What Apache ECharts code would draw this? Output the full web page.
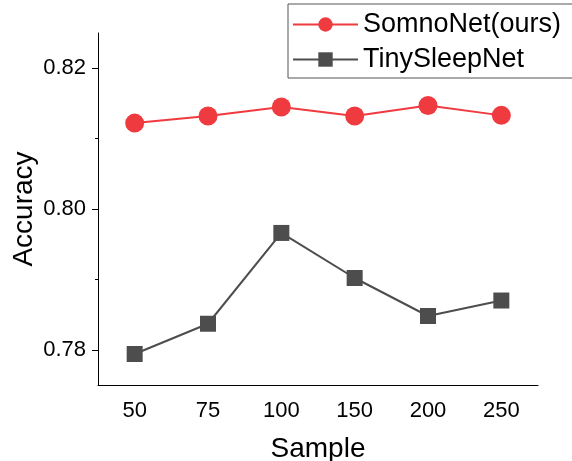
<!DOCTYPE html>
<html>
<head>
<meta charset="utf-8">
<script src="https://cdn.jsdelivr.net/npm/echarts@6/dist/echarts.min.js"></script>
<style>
html,body{margin:0;padding:0;background:#fff;}
#chart{width:572px;height:461px;}
</style>
</head>
<body>
<div id="chart"></div>
<script>
var categories = ['50', '75', '100', '150', '200', '250'];
var somnoNet = [0.8122, 0.8132, 0.8145, 0.8132, 0.8147, 0.8133];
var tinySleepNet = [0.7794, 0.7837, 0.7966, 0.7902, 0.7848, 0.7870];
var yMajorTicks = [0.78, 0.80, 0.82];
var yMinorTicks = [0.79, 0.81];

var FONT = '"Liberation Sans", Arial, sans-serif';
var RED = '#EF3A3F';
var GREY = '#4D4D4D';

var chart = echarts.init(document.getElementById('chart'), null, {renderer: 'canvas'});
chart.setOption({
  backgroundColor: '#ffffff',
  animation: false,
  textStyle: {fontFamily: FONT},
  grid: {left: 98, right: 34, top: 33, bottom: 76, containLabel: false, outerBoundsMode: 'none'},
  legend: {
    left: 288, top: 4,
    orient: 'vertical',
    itemWidth: 65, itemHeight: 18, itemGap: 8,
    padding: [7, 30, 5, 4],
    borderColor: '#555', borderWidth: 1,
    textStyle: {fontFamily: FONT, fontSize: 27, color: '#000'},
    data: ['SomnoNet(ours)', 'TinySleepNet']
  },
  xAxis: {
    type: 'category',
    data: categories,
    boundaryGap: true,
    name: 'Sample', nameLocation: 'middle', nameGap: 50,
    nameTextStyle: {fontFamily: FONT, fontSize: 28, color: '#000'},
    axisLine: {lineStyle: {color: '#000', width: 1}},
    axisTick: {alignWithLabel: true, length: 7, lineStyle: {color: '#000'}},
    axisLabel: {fontFamily: FONT, fontSize: 22, color: '#000', margin: 15},
    splitLine: {show: false}
  },
  yAxis: [{
    type: 'value',
    min: 0.775, max: 0.825,
    name: 'Accuracy', nameLocation: 'middle', nameGap: 60, nameRotate: 90,
    nameMoveOverlap: false,
    nameTextStyle: {fontFamily: FONT, fontSize: 28, color: '#000'},
    axisLine: {show: true, lineStyle: {color: '#000', width: 1}},
    axisTick: {show: true, length: 6, customValues: yMajorTicks, lineStyle: {color: '#000'}},
    axisLabel: {customValues: yMajorTicks, fontFamily: FONT, fontSize: 22, color: '#000', margin: 12,
      formatter: function (v) { return v.toFixed(2); }},
    splitLine: {show: false}
  }, {
    type: 'value',
    position: 'left',
    min: 0.775, max: 0.825,
    axisLine: {show: false},
    axisTick: {show: true, length: 3, customValues: yMinorTicks, lineStyle: {color: '#000'}},
    axisLabel: {show: false},
    splitLine: {show: false}
  }],
  series: [{
    name: 'SomnoNet(ours)',
    type: 'line',
    data: somnoNet,
    symbol: 'circle', symbolSize: 19,
    itemStyle: {color: RED},
    lineStyle: {color: RED, width: 2}
  }, {
    name: 'TinySleepNet',
    type: 'line',
    data: tinySleepNet,
    symbol: 'rect', symbolSize: 16,
    itemStyle: {color: GREY},
    lineStyle: {color: GREY, width: 2}
  }]
});
</script>
</body>
</html>
